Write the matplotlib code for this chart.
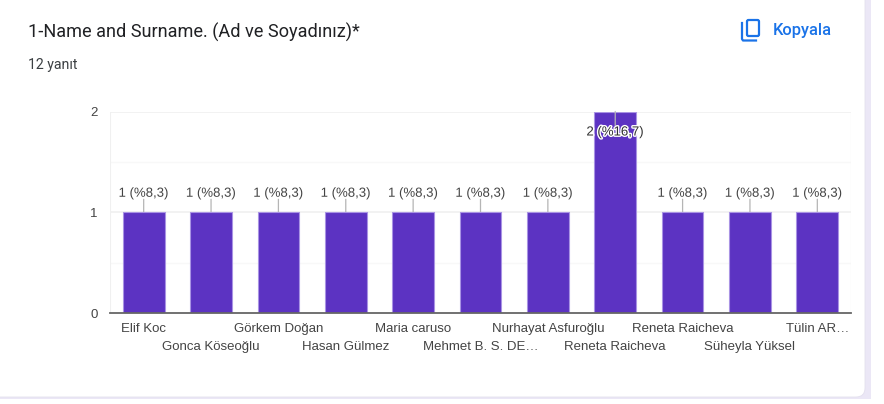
# Recreate the "1-Name and Surname" response card
import matplotlib
matplotlib.use('Agg')
import matplotlib.pyplot as plt
import matplotlib.patheffects as pe
from matplotlib.patches import FancyBboxPatch, Rectangle
from matplotlib.lines import Line2D

# Chart data
names = ['Elif Koc', 'Gonca Köseoğlu', 'Görkem Doğan', 'Hasan Gülmez', 'Maria caruso',
         'Mehmet B. S. DE…', 'Nurhayat Asfuroğlu', 'Reneta Raicheva', 'Reneta Raicheva',
         'Süheyla Yüksel', 'Tülin AR…']
counts = [1, 1, 1, 1, 1, 1, 1, 2, 1, 1, 1]
percents = ['%8,3', '%8,3', '%8,3', '%8,3', '%8,3', '%8,3', '%8,3', '%16,7', '%8,3', '%8,3', '%8,3']
y_ticks = [0, 1, 2]
y_minor = [0.5, 1.5]

W, H = 884, 404
fig = plt.figure(figsize=(W / 100, H / 100), dpi=100, facecolor='white')

# Background layer in pixel coordinates for the card
bg = fig.add_axes([0, 0, 1, 1], zorder=0)
bg.set_xlim(0, W)
bg.set_ylim(H, 0)
bg.axis('off')
bg.add_patch(Rectangle((0, 0), 871, 399, fc='#ebe7f6', ec='none'))
bg.add_patch(FancyBboxPatch((-20, -20), 885, 417, boxstyle='round,pad=0,rounding_size=9',
                            fc='white', ec='#e3e0ee', lw=0.6))

# Header text
bg.text(28, 32, '1-Name and Surname. (Ad ve Soyadınız)*', fontsize=13.1, family='Roboto',
        color='#202124', va='center', ha='left')
bg.text(28, 64.5, '12 yanıt', fontsize=10.2, family='Roboto', color='#3c4043', va='center', ha='left')
bg.text(773, 30, 'Kopyala', fontsize=11.9, family='Roboto', weight='medium', color='#1a73e8',
        va='center', ha='left')

# Copy icon
bg.add_patch(FancyBboxPatch((747, 20), 12, 16, boxstyle='round,pad=0,rounding_size=1.5',
                            fc='none', ec='#1a73e8', lw=1.6))
bg.add_line(Line2D([742, 742, 743, 756], [23, 39, 40.5, 40.5], color='#1a73e8', lw=1.6))

# Plot area, x runs one category either side so bars line up with the grid
ax = fig.add_axes([110 / W, 1 - 313 / H, 741 / W, (313 - 111.5) / H], zorder=1)
ax.patch.set_alpha(0)
x = list(range(len(names)))
ax.bar(x, counts, width=0.62, color='#5c33c2', edgecolor='#a993e4', linewidth=0.8, zorder=3)
ax.set_xlim(-0.5, 10.5)
ax.set_ylim(0, 2)

# Gridlines
for v in y_ticks[1:]:
    ax.axhline(v, color='#f0f0f0', lw=1.2, zorder=1)
for v in y_minor:
    ax.axhline(v, color='#f8f8f8', lw=1, zorder=1)
for side in ['top', 'right', 'left']:
    ax.spines[side].set_visible(False)
ax.axvline(-0.5, color='#f0f0f0', lw=1.5, zorder=1)
ax.axvline(10.5, color='#f5f5f5', lw=1, zorder=1)
ax.spines['bottom'].set_color('#666666')
ax.spines['bottom'].set_linewidth(1.3)
ax.spines['bottom'].set_zorder(5)

# Axis labels
ax.set_yticks(y_ticks)
ax.set_yticklabels([str(v) for v in y_ticks], fontsize=9.5, family='Liberation Sans', color='#444444')
ax.tick_params(axis='y', length=0, pad=9)
ax.set_xticks(x)
ax.set_xticklabels(names, fontsize=9.5, family='Liberation Sans', color='#444444')
ax.tick_params(axis='x', length=0)
for i, tick in enumerate(ax.xaxis.get_major_ticks()):
    tick.set_pad(7.5 if i % 2 == 0 else 20.5)

# Value labels with leader lines, the tall bar keeps its label inside
for xi, c, p in zip(x, counts, percents):
    label = f'{c} ({p})'
    if c == max(counts):
        ax.annotate('', xy=(xi, c), xytext=(0, -14), textcoords='offset pixels',
                    arrowprops=dict(arrowstyle='-', color='#b5b5b5', lw=0.9, shrinkA=0, shrinkB=0),
                    zorder=6)
        ax.annotate(label, xy=(xi, c), xytext=(0, -21), textcoords='offset pixels',
                    ha='center', va='center', fontsize=9.5, family='Liberation Sans', color='#333333',
                    path_effects=[pe.withStroke(linewidth=2, foreground='white')], zorder=7)
    else:
        ax.annotate('', xy=(xi, c), xytext=(0, 13), textcoords='offset pixels',
                    arrowprops=dict(arrowstyle='-', color='#b5b5b5', lw=0.9, shrinkA=0, shrinkB=0),
                    zorder=2)
        ax.annotate(label, xy=(xi, c), xytext=(0, 18.5), textcoords='offset pixels',
                    ha='center', va='center', fontsize=9.5, family='Liberation Sans', color='#444444',
                    path_effects=[pe.withStroke(linewidth=2, foreground='white')], zorder=4)

fig.savefig('out.png', dpi=100)
